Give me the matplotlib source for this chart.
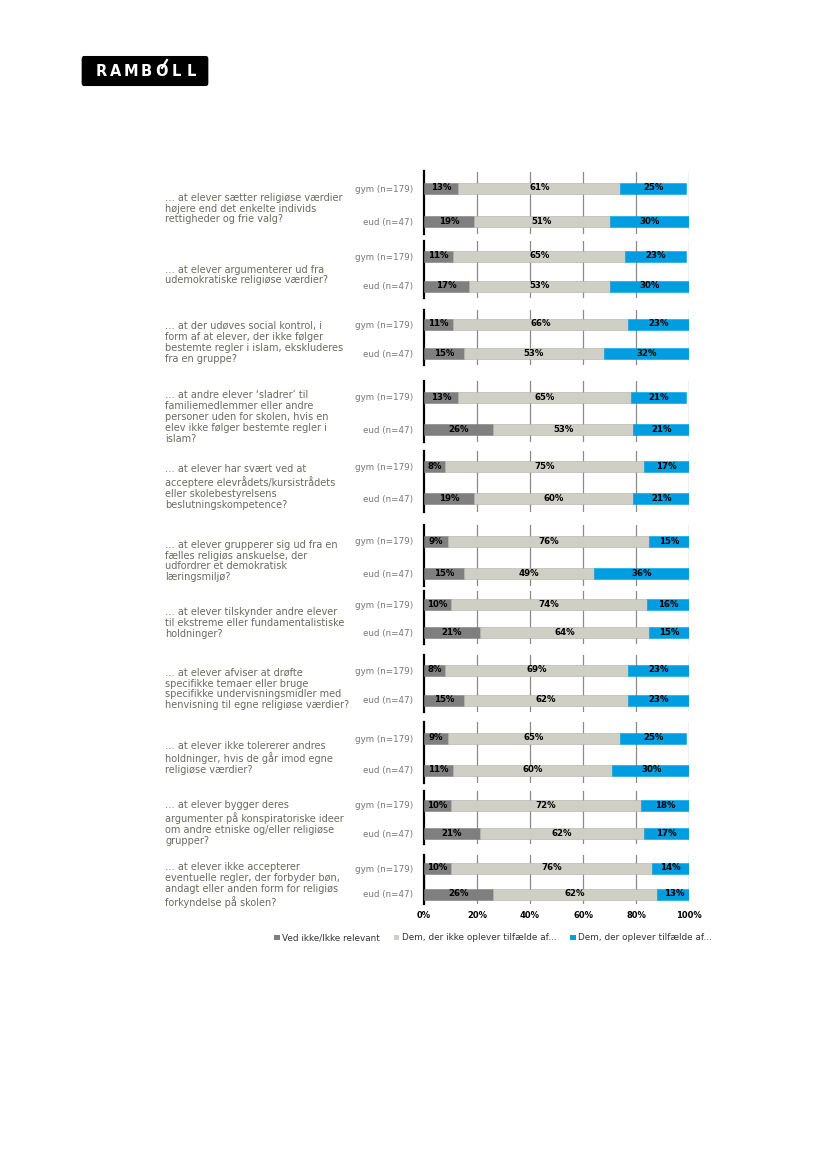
import numpy as np
import matplotlib.pyplot as plt
from matplotlib.patches import FancyBboxPatch, Patch
from matplotlib.lines import Line2D

# data
questions = [
    "… at elever sætter religiøse værdier\nhøjere end det enkelte individs\nrettigheder og frie valg?",
    "… at elever argumenterer ud fra\nudemokratiske religiøse værdier?",
    "… at der udøves social kontrol, i\nform af at elever, der ikke følger\nbestemte regler i islam, ekskluderes\nfra en gruppe?",
    "… at andre elever ‘sladrer’ til\nfamiliemedlemmer eller andre\npersoner uden for skolen, hvis en\nelev ikke følger bestemte regler i\nislam?",
    "… at elever har svært ved at\nacceptere elevrådets/kursistrådets\neller skolebestyrelsens\nbeslutningskompetence?",
    "… at elever grupperer sig ud fra en\nfælles religiøs anskuelse, der\nudfordrer et demokratisk\nlæringsmiljø?",
    "… at elever tilskynder andre elever\ntil ekstreme eller fundamentalistiske\nholdninger?",
    "… at elever afviser at drøfte\nspecifikke temaer eller bruge\nspecifikke undervisningsmidler med\nhenvisning til egne religiøse værdier?",
    "… at elever ikke tolererer andres\nholdninger, hvis de går imod egne\nreligiøse værdier?",
    "… at elever bygger deres\nargumenter på konspiratoriske ideer\nom andre etniske og/eller religiøse\ngrupper?",
    "… at elever ikke accepterer\neventuelle regler, der forbyder bøn,\nandagt eller anden form for religiøs\nforkyndelse på skolen?",
]
groups = ["gym (n=179)", "eud (n=47)"]
series = ["Ved ikke/Ikke relevant",
          "Dem, der ikke oplever tilfælde af...",
          "Dem, der oplever tilfælde af..."]

ved_ikke_gym = [13, 11, 11, 13, 8, 9, 10, 8, 9, 10, 10]
ikke_gym     = [61, 65, 66, 65, 75, 76, 74, 69, 65, 72, 76]
oplever_gym  = [25, 23, 23, 21, 17, 15, 16, 23, 25, 18, 14]
ved_ikke_eud = [19, 17, 15, 26, 19, 15, 21, 15, 11, 21, 26]
ikke_eud     = [51, 53, 53, 53, 60, 49, 64, 62, 60, 62, 62]
oplever_eud  = [30, 30, 32, 21, 21, 36, 15, 23, 30, 17, 13]

colors = ['#7f7f7f', '#cfcfc6', '#009ee0']
q_color = '#6b6b5e'
lab_color = '#777777'

# layout (pixel centres of gym / eud bars per panel)
gym_px = [188, 256, 324, 397, 467, 541, 605, 670, 738, 805, 868]
eud_px = [221, 286, 353, 429, 499, 573, 633, 700, 770, 833, 894]

W, H = 827, 1169
fig = plt.figure(figsize=(W / 100, H / 100), dpi=100)

x0, x1 = 424, 689
for i in range(len(questions)):
    d = eud_px[i] - gym_px[i]
    top = gym_px[i] - 0.5 * d
    bot = eud_px[i] + 0.4 * d
    ax = fig.add_axes([x0 / W, 1 - bot / H, (x1 - x0) / W, (bot - top) / H])
    ax.set_xlim(0, 100)
    ax.set_ylim(-0.4, 1.5)
    vals = [[ved_ikke_eud[i], ved_ikke_gym[i]],
            [ikke_eud[i], ikke_gym[i]],
            [oplever_eud[i], oplever_gym[i]]]
    ypos = [0, 1]
    left = np.zeros(2)
    bh = 11 / d
    for k in range(3):
        v = np.array(vals[k], dtype=float)
        ax.barh(ypos, v, left=left, height=bh, color=colors[k], label=series[k],
                edgecolor='#b0b0a8' if k == 1 else colors[k], linewidth=0.4, zorder=3)
        for y, vv, ll in zip(ypos, v, left):
            ax.text(ll + vv / 2, y, f"{int(vv)}%", ha='center', va='center',
                    fontsize=6.2, fontweight='bold', color='black', zorder=4)
        left += v
    ax.set_xticks([20, 40, 60, 80, 100])
    ax.grid(axis='x', color='#8a8a8a', linewidth=0.9, zorder=0)
    ax.set_axisbelow(True)
    for s in ['top', 'right', 'bottom']:
        ax.spines[s].set_visible(False)
    ax.spines['left'].set_linewidth(1.6)
    ax.spines['left'].set_color('black')
    ax.set_yticks(ypos)
    ax.set_yticklabels(groups[::-1], fontsize=6.3, color=lab_color)
    ax.tick_params(axis='y', length=0, pad=8)
    if i == len(questions) - 1:
        ax.set_xticks([0, 20, 40, 60, 80, 100])
        ax.set_xticklabels([f"{t}%" for t in range(0, 101, 20)], fontsize=6,
                           fontweight='bold')
        ax.tick_params(axis='x', length=0, pad=5)
    else:
        ax.tick_params(axis='x', length=0, labelbottom=False)
    # question text
    ymid = (gym_px[i] + eud_px[i]) / 2 + 4
    fig.text(165 / W, 1 - ymid / H, questions[i], ha='left', va='center',
             fontsize=7, color=q_color, linespacing=1.12)

# legend
handles = [Patch(facecolor=c, edgecolor='none') for c in colors]
fig.legend(handles, series, loc='center', bbox_to_anchor=(493 / W, 1 - 938 / H),
           ncol=3, frameon=False, fontsize=6.4, handlelength=0.6, handleheight=0.6,
           handletextpad=0.25, columnspacing=1.6, labelcolor='#333333')

# logo
logo = FancyBboxPatch((84 / W, 1 - 83 / H), 122 / W, 24 / H,
                      boxstyle='round,pad=0.002', transform=fig.transFigure,
                      facecolor='black', edgecolor='black')
fig.add_artist(logo)
for j, ch in enumerate("RAMBOLL"):
    fig.text((101 + j * 15) / W, 1 - 71 / H, ch, ha='center', va='center',
             fontsize=10.5, fontweight='bold', color='white')
fig.add_artist(Line2D([162 / W, 167 / W], [1 - 68 / H, 1 - 60 / H],
                      transform=fig.transFigure, color='white', linewidth=1.6))

fig.savefig('out.png', dpi=100)
